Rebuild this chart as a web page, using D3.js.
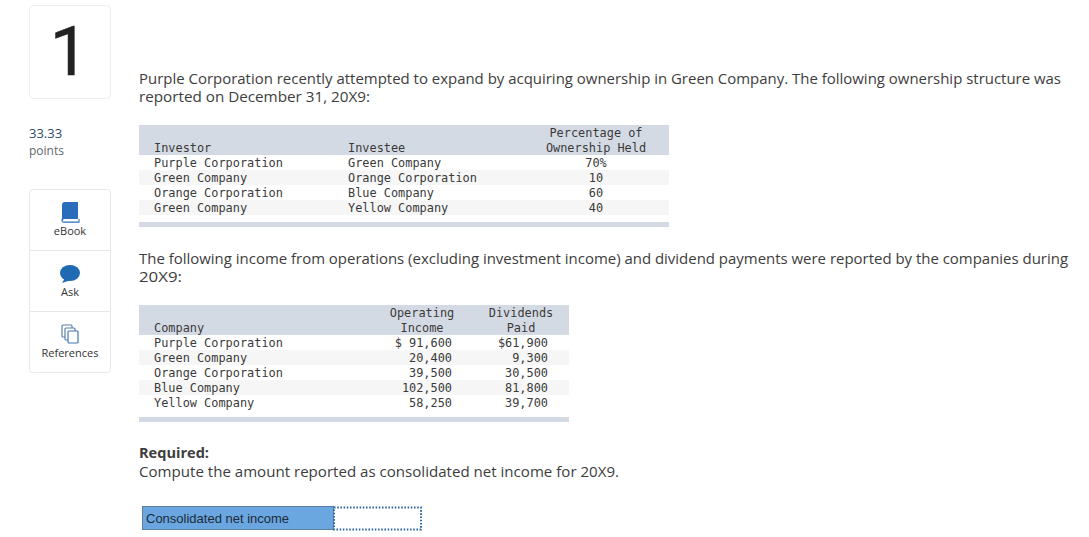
<!DOCTYPE html>
<html>
<head>
<meta charset="utf-8">
<script src="https://cdn.jsdelivr.net/npm/d3@7"></script>
<style>
  html, body { margin: 0; padding: 0; background: #fff; overflow: hidden; }
  text { font-family: "Open Sans", Lato, sans-serif; }
  .mono text, text.mono { font-family: "DejaVu Sans Mono", monospace; font-size: 11.9px; fill: #3a3a3a; }
  .para { font-size: 15px; fill: #3d3d3d; }
</style>
</head>
<body>
<svg id="sheet" width="1089" height="537"></svg>
<script>
// first table
const investors = ['Purple Corporation', 'Green Company', 'Orange Corporation', 'Green Company']
const investees = ['Green Company', 'Orange Corporation', 'Blue Company', 'Yellow Company']
const ownership = ['70%', '10', '60', '40']

// second table
const companies = ['Purple Corporation', 'Green Company', 'Orange Corporation', 'Blue Company', 'Yellow Company']
const operatingIncome = [91600, 20400, 39500, 102500, 58250]
const dividendsPaid = [61900, 9300, 30500, 81800, 39700]

const sideItems = ['eBook', 'Ask', 'References']

const svg = d3.select('#sheet')
const fmt = d3.format(',')

function para(x, y, str, opts = {}) {
  return svg.append('text').attr('class', 'para').attr('x', x).attr('y', y)
    .attr('font-weight', opts.bold ? 700 : null)
    .attr('textLength', opts.len || null)
    .attr('lengthAdjust', 'spacingAndGlyphs')
    .text(str)
}

/**
 * draw a striped table: header block, rows, closing bar
 * columns: [{x, anchor, head: [lines], cells: [strings]}]
 **/
function drawTable(top, left, right, columns, rowCount) {
  const g = svg.append('g').attr('class', 'mono')
  const headH = 30
  const y = d3.scaleBand()
    .domain(d3.range(rowCount))
    .range([top + headH, top + headH + rowCount * 15])

  g.append('rect').attr('x', left).attr('y', top)
    .attr('width', right - left).attr('height', headH).attr('fill', '#d4dae4')

  g.selectAll('rect.row').data(y.domain()).join('rect')
    .attr('class', 'row')
    .attr('x', left).attr('y', d => y(d))
    .attr('width', right - left).attr('height', y.bandwidth())
    .attr('fill', d => d % 2 ? '#f6f6f6' : '#fff')

  g.append('rect').attr('x', left).attr('y', y.range()[1] + 7)
    .attr('width', right - left).attr('height', 5).attr('fill', '#d4dae4')

  columns.forEach(col => {
    col.head.forEach((line, i) => {
      g.append('text').attr('x', col.headX === undefined ? col.x : col.headX)
        .attr('y', top + headH - 2.6 - (col.head.length - 1 - i) * 15)
        .attr('text-anchor', col.headAnchor || col.anchor)
        .text(line)
    })
    g.selectAll(null).data(col.cells).join('text')
      .attr('x', col.x)
      .attr('y', (d, i) => y(i) + 12.4)
      .attr('text-anchor', col.anchor)
      .style('white-space', 'pre')
      .text(d => d)
  })
}

// question number box
svg.append('rect').attr('x', 29.5).attr('y', 5.5).attr('width', 81).attr('height', 93).attr('rx', 4)
  .attr('fill', '#fff').attr('stroke', '#eceef0')
svg.append('text').attr('x', 69).attr('y', 75).attr('text-anchor', 'middle')
  .style('font-family', 'Roboto').attr('font-size', 68).attr('fill', '#222')
  .attr('stroke', '#222').attr('stroke-width', 0.6).text('1')

svg.append('text').attr('x', 29).attr('y', 138).attr('font-size', 13).attr('fill', '#2f4a6d').text('33.33')
svg.append('text').attr('x', 29).attr('y', 155).attr('font-size', 12).attr('fill', '#5f6770').text('points')

// side menu
svg.append('rect').attr('x', 29.5).attr('y', 189.5).attr('width', 81).attr('height', 183).attr('rx', 3)
  .attr('fill', '#fff').attr('stroke', '#e6e8ea')
svg.append('line').attr('x1', 30).attr('x2', 110).attr('y1', 250.5).attr('y2', 250.5).attr('stroke', '#e6e8ea')
svg.append('line').attr('x1', 30).attr('x2', 110).attr('y1', 311.5).attr('y2', 311.5).attr('stroke', '#e6e8ea')

const sideY = d3.scalePoint().domain(sideItems).range([235, 357])
svg.selectAll('text.side').data(sideItems).join('text')
  .attr('class', 'side').attr('x', 70).attr('y', d => sideY(d))
  .attr('text-anchor', 'middle').attr('font-size', 11).attr('fill', '#333').text(d => d)

// book icon
svg.append('path').attr('d', 'M62 205 a3 3 0 0 1 3-3 h13 v17 h-13 a3 3 0 0 0 -3 2 z').attr('fill', '#2a6ebb')
svg.append('path').attr('d', 'M62 219 v1.5 a1.6 1.6 0 0 0 1.6 1.6 h15.4 v-3').attr('fill', 'none').attr('stroke', '#2a6ebb').attr('stroke-width', 1.1)
// speech bubble
svg.append('ellipse').attr('cx', 70).attr('cy', 273).attr('rx', 10).attr('ry', 8).attr('fill', '#1f6ab3')
svg.append('path').attr('d', 'M65 278 L62 283 L71 280 z').attr('fill', '#1f6ab3')
// pages icon
svg.append('rect').attr('x', 62).attr('y', 325).attr('width', 10).attr('height', 12).attr('rx', 1).attr('fill', '#fff').attr('stroke', '#5b7fa8').attr('stroke-width', 1.2)
svg.append('rect').attr('x', 65).attr('y', 328).attr('width', 10).attr('height', 12).attr('rx', 1).attr('fill', '#fff').attr('stroke', '#5b7fa8').attr('stroke-width', 1.2)
svg.append('rect').attr('x', 68).attr('y', 331).attr('width', 10).attr('height', 12).attr('rx', 1).attr('fill', '#fff').attr('stroke', '#3f78b5').attr('stroke-width', 1.2)

// question text
para(139, 84, 'Purple Corporation recently attempted to expand by acquiring ownership in Green Company. The following ownership structure was', {len: 922})
para(139, 102, 'reported on December 31, 20X9:', {len: 231})

drawTable(125, 139, 669, [
  {x: 154, anchor: 'start', head: ['Investor'], cells: investors},
  {x: 348, anchor: 'start', head: ['Investee'], cells: investees},
  {x: 596, anchor: 'middle', head: ['Percentage of', 'Ownership Held'], cells: ownership}
], investors.length)

para(139, 264, 'The following income from operations (excluding investment income) and dividend payments were reported by the companies during', {len: 929})
para(139, 282, '20X9:', {len: 43})

const incomeCells = operatingIncome.map((v, i) => (i === 0 ? '$ ' : '') + fmt(v))
const dividendCells = dividendsPaid.map((v, i) => (i === 0 ? '$' : '') + fmt(v))

drawTable(305, 139, 569, [
  {x: 154, anchor: 'start', head: ['Company'], cells: companies},
  {x: 452, headX: 422, anchor: 'end', headAnchor: 'middle', head: ['Operating', 'Income'], cells: incomeCells},
  {x: 548, headX: 521, anchor: 'end', headAnchor: 'middle', head: ['Dividends', 'Paid'], cells: dividendCells}
], companies.length)

para(139, 458, 'Required:', {bold: true, len: 70})
para(139, 477, 'Compute the amount reported as consolidated net income for 20X9.', {len: 480})

// answer row
svg.append('rect').attr('x', 142.5).attr('y', 506.5).attr('width', 191).attr('height', 23)
  .attr('fill', '#6aa7e0').attr('stroke', '#5f7f9f')
svg.append('text').attr('x', 146).attr('y', 523)
  .style('font-family', '"Liberation Sans"').attr('font-size', 13).attr('fill', '#1d2a38').text('Consolidated net income')
svg.append('rect').attr('x', 334).attr('y', 507.5).attr('width', 87).attr('height', 22)
  .attr('fill', '#fff').attr('stroke', '#2f6da8').attr('stroke-width', 2).attr('stroke-dasharray', '1.6 1.6')
</script>
</body>
</html>
